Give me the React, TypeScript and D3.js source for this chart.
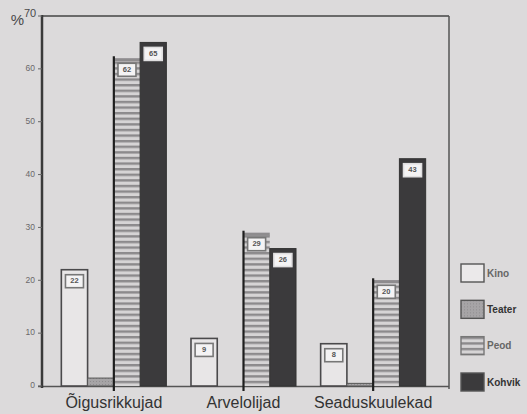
import React from "react";
import * as d3 from "d3";

const categories = ["Õigusrikkujad", "Arvelolijad", "Seaduskuulekad"];
const seriesNames = ["Kino", "Teater", "Peod", "Kohvik"];
const kino = [22, 9, 8];
const teater = [1.5, 0, 0.5];
const peod = [62, 29, 20];
const kohvik = [65, 26, 43];
const labelled = [true, false, true, true];
const yTicks = [0, 10, 20, 30, 40, 50, 60, 70];

const W = 527;
const H = 414;
const BG = "#dcdadb";
const FONT = "'Liberation Sans', Arial, sans-serif";

export default function App() {
  const values = [kino, teater, peod, kohvik];
  const y = d3.scaleLinear().domain([0, 70]).range([386, 16]);
  const x0 = d3.scaleBand<string>().domain(categories).range([38, 449]).paddingInner(0.19).paddingOuter(0.18);
  const x1 = d3.scaleBand<string>().domain(seriesNames).range([0, x0.bandwidth()]).padding(0);
  const bw = x1.bandwidth();

  const fills = ["#e8e6e7", "url(#teater)", "url(#peod)", "#3b3a3c"];
  const strokes = ["#4a494b", "#555", "none", "#333"];

  const bars: React.ReactNode[] = [];
  categories.forEach((cat, ci) => {
    seriesNames.forEach((s, si) => {
      const v = values[si][ci];
      const bx = (x0(cat) as number) + (x1(s) as number);
      const by = y(v);
      const h = y(0) - by;
      if (v <= 0) return;
      bars.push(
        <g key={cat + s}>
          <rect x={bx} y={by} width={bw} height={h} fill={fills[si]}
            stroke={strokes[si]} strokeWidth={si === 0 ? 1.6 : 1} />
          {si === 2 && (
            <>
              <rect x={bx} y={by} width={bw} height={3} fill="#8e8c8e" />
              <line x1={bx} x2={bx} y1={by - 2} y2={y(0) + 5} stroke="#1e1e1e" strokeWidth={2.2} />
            </>
          )}
          {labelled[si] && (
            <g>
              <rect x={bx + bw / 2 - 9} y={by + 5} width={18} height={13}
                fill="#f4f3f4" stroke={si === 3 ? "#e0dfe0" : "#777"} strokeWidth={1.6} />
              <text x={bx + bw / 2} y={by + 11.8} textAnchor="middle" dominantBaseline="middle"
                fontSize={7.5} fontWeight="bold" fill="#555" fontFamily={FONT}>
                {v}
              </text>
            </g>
          )}
        </g>
      );
    });
  });

  const legendY = d3.scalePoint<string>().domain(seriesNames).range([264, 373]);
  const legendFills = ["#ebe9ea", "url(#teater)", "url(#peod)", "#3b3a3c"];

  return (
    <svg width={W} height={H} style={{ position: "fixed", left: 0, top: 0 }} fontFamily={FONT}>
      <defs>
        <pattern id="peod" width={6} height={5.6} patternUnits="userSpaceOnUse">
          <rect width={6} height={5.6} fill="#d6d4d5" />
          <rect y={0} width={6} height={2.4} fill="#8c8a8c" />
        </pattern>
        <pattern id="teater" width={3} height={3} patternUnits="userSpaceOnUse">
          <rect width={3} height={3} fill="#a6a4a6" />
          <rect width={1} height={1} fill="#8f8d8f" />
        </pattern>
      </defs>
      <rect width={W} height={H} fill={BG} />

      {/* frame */}
      <line x1={42} x2={449} y1={16} y2={16} stroke="#444" strokeWidth={1.5} />
      <line x1={449} x2={449} y1={16} y2={389} stroke="#555" strokeWidth={1.5} />
      <line x1={38} x2={449} y1={386.5} y2={386.5} stroke="#555" strokeWidth={1.5} />

      {bars}

      <line x1={42} x2={42} y1={15} y2={388} stroke="#3a3a3a" strokeWidth={2.5} />

      {/* y ticks */}
      {yTicks.map((t) => (
        <g key={t}>
          <line x1={38} x2={42} y1={y(t)} y2={y(t)} stroke="#666" strokeWidth={1} />
          {t !== 70 && (
            <text x={35} y={y(t)} textAnchor="end" dominantBaseline="middle" fontSize={8.5} fill="#6a686a">
              {t}
            </text>
          )}
        </g>
      ))}
      <text x={24} y={21} textAnchor="end" dominantBaseline="middle" fontSize={15} fill="#4a494b">%</text>
      <text x={24} y={14} dominantBaseline="middle" fontSize={11} fill="#4a494b">70</text>

      {/* category labels */}
      {categories.map((c) => (
        <text key={c} x={(x0(c) as number) + x0.bandwidth() / 2} y={404} textAnchor="middle"
          dominantBaseline="middle" fontSize={16} fill="#333">
          {c}
        </text>
      ))}

      {/* legend */}
      {seriesNames.map((s, i) => (
        <g key={s} transform={`translate(461,${legendY(s)})`}>
          <rect width={23} height={18} fill={legendFills[i]} stroke={i === 2 ? "#777" : "#555"} strokeWidth={1.4} />
          <text x={26} y={10} dominantBaseline="middle" fontSize={10} fontWeight="bold"
            fill={i % 2 === 0 ? "#666" : "#333"}>
            {s}
          </text>
        </g>
      ))}
    </svg>
  );
}
